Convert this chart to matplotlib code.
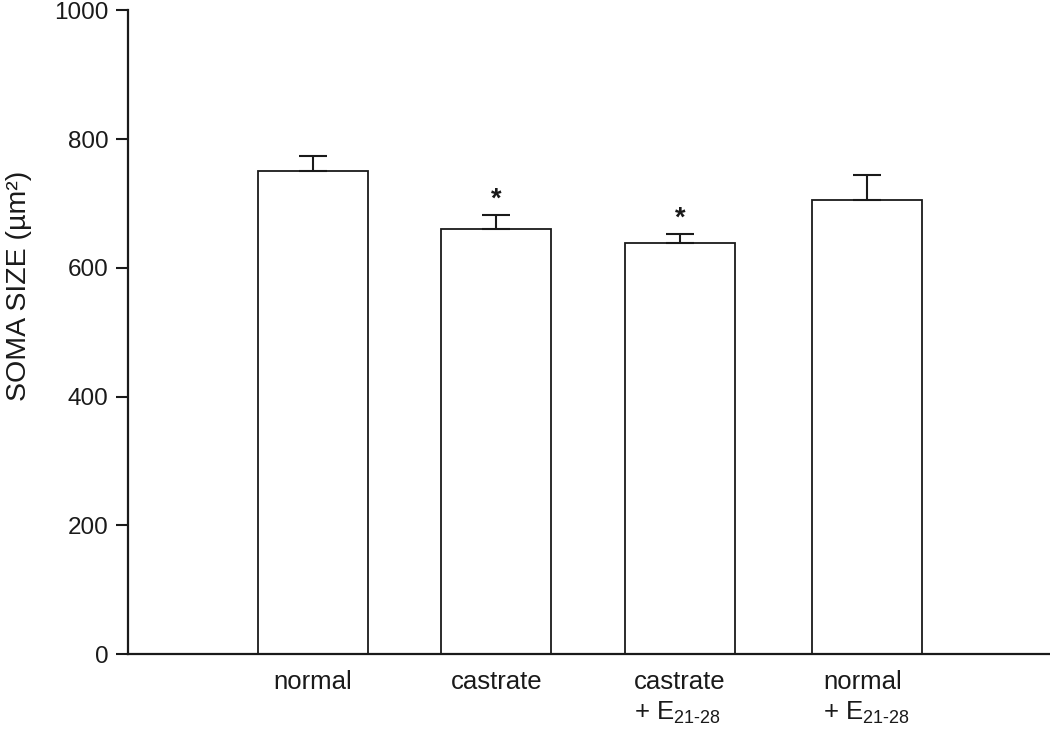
import matplotlib
matplotlib.use('Agg')
import matplotlib.pyplot as plt

# Data
groups = ['normal', 'castrate', 'castrate\n+ E$_{\\text{21-28}}$', 'normal\n+ E$_{\\text{21-28}}$']
soma_mean = [750, 660, 638, 705]
soma_sem = [24, 22, 15, 39]
significant = [False, True, True, False]

# Layout (bar centres in category units)
positions = [1.01, 2.01, 3.01, 4.03]
BarWidth = 0.6
FontSize = 17.5
InkColor = '#1a1a1a'


def main():
    plt.rcParams['font.family'] = ['Liberation Sans', 'DejaVu Sans']
    plt.rcParams['mathtext.fontset'] = 'custom'
    plt.rcParams['mathtext.rm'] = 'Liberation Sans'
    plt.rcParams['mathtext.it'] = 'Liberation Sans:italic'
    plt.rcParams['mathtext.bf'] = 'Liberation Sans:bold'

    fig = plt.figure(figsize=(10.5, 7.29), dpi=100)
    ax = fig.add_axes([0.1219, 0.1025, 0.8781, 0.8834])

    ax.bar(positions, soma_mean, width=BarWidth, color='white',
           edgecolor=InkColor, linewidth=1.3, zorder=2)
    ax.errorbar(positions, soma_mean, yerr=[[0] * len(soma_sem), soma_sem],
                fmt='none', ecolor=InkColor, elinewidth=1.5, capsize=10,
                capthick=1.5, zorder=3)

    for x, m, e, s in zip(positions, soma_mean, soma_sem, significant):
        if s:
            ax.annotate('*', xy=(x, m + e), xytext=(0, 1.5), textcoords='offset points',
                        ha='center', va='bottom', fontsize=FontSize + 2,
                        fontweight='bold', color=InkColor)

    ax.set_xlim(0, 5.03)
    ax.set_ylim(0, 1000)
    ax.set_yticks([0, 200, 400, 600, 800, 1000])
    ax.set_xticks(positions)
    ax.set_xticklabels(groups, fontsize=FontSize + 1, linespacing=1.3)
    for lab in ax.get_xticklabels():
        lab.set_multialignment('left')

    ax.tick_params(axis='x', length=0, pad=11, colors=InkColor)
    ax.tick_params(axis='y', length=9, width=1.5, pad=5, labelsize=FontSize,
                   colors=InkColor)

    for side in ('top', 'right'):
        ax.spines[side].set_visible(False)
    for side in ('left', 'bottom'):
        ax.spines[side].set_linewidth(1.6)
        ax.spines[side].set_color(InkColor)

    ax.set_ylabel('SOMA SIZE (\u00b5m\u00b2)', fontsize=20.5, color=InkColor)
    ax.yaxis.set_label_coords(-0.104, 0.572)

    fig.savefig('out.png', dpi=100)


if __name__ == '__main__':
    main()
